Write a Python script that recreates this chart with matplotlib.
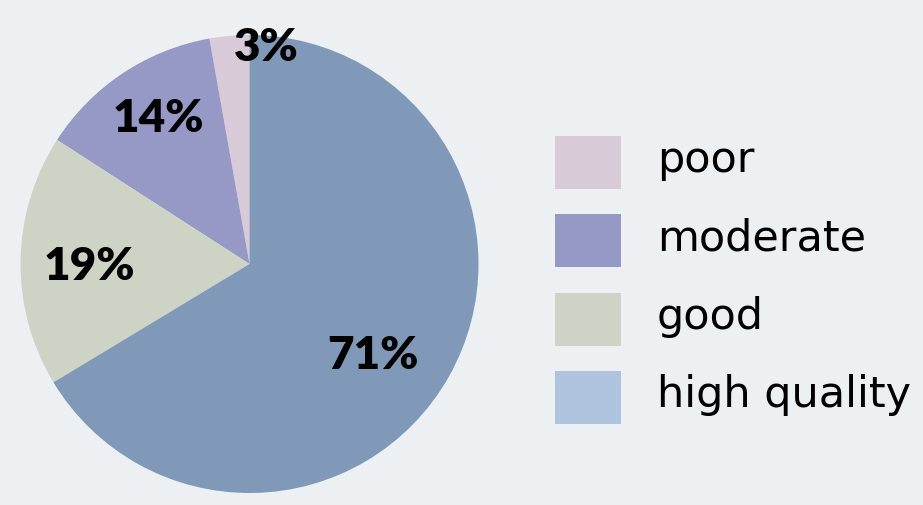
import numpy as np
import matplotlib.pyplot as plt
from matplotlib.patches import Rectangle

# share of samples per quality class
categories = ['poor', 'moderate', 'good', 'high quality']
values = [3, 14, 19, 71]
pie_colors = ['#D8CAD6', '#9698C5', '#CDD3C5', '#8199B8']
legend_colors = ['#D8CAD6', '#9698C5', '#CDD3C5', '#ADC3DE']

# label placement (radius, angle shift in degrees) per wedge
label_radius = [0.95, 0.75, 0.70, 0.67]
label_shift = [-9.5, -1.5, 1.8, -7.0]

BG = '#EDF0F3'
W, H = 923, 505

fig = plt.figure(figsize=(W / 100, H / 100), dpi=100, facecolor=BG)
ax = fig.add_axes([(249.5 - 229) / W, 12 / H, 458 / W, 458 / H])
ax.set_facecolor(BG)

wedges, _ = ax.pie(values, colors=pie_colors, startangle=90, counterclock=True,
                   radius=1, wedgeprops=dict(linewidth=0))
ax.set_xlim(-1, 1)
ax.set_ylim(-1, 1)
ax.set_aspect('equal')
ax.axis('off')

for w, v, r, s in zip(wedges, values, label_radius, label_shift):
    mid = np.deg2rad((w.theta1 + w.theta2) / 2 + s)
    ax.text(r * np.cos(mid), r * np.sin(mid), f'{v}%', ha='center', va='center',
            fontsize=33, fontweight='heavy', family='Lato', color='black')

# legend drawn by hand: swatch boxes with labels to the right
sw_x, sw_w, sw_h, pitch, top0 = 555, 66, 53, 78.3, 136
for i, (cat, c) in enumerate(zip(categories, legend_colors)):
    top = top0 + i * pitch
    fig.add_artist(Rectangle((sw_x / W, 1 - (top + sw_h) / H), sw_w / W, sw_h / H,
                             facecolor=c, edgecolor='none', transform=fig.transFigure))
    fig.text(657 / W, 1 - (top + 36) / H, cat, ha='left', va='baseline',
             fontsize=31, family='DejaVu Sans', color='black')

fig.savefig('out.png', dpi=100, facecolor=BG)
